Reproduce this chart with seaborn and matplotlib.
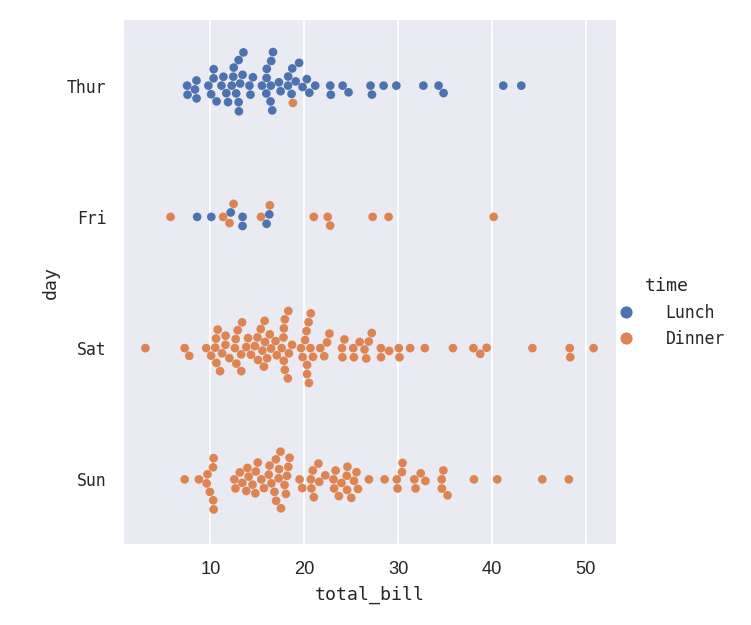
import pandas as pd
import matplotlib.pyplot as plt
import seaborn as sns

# total_bill values read per day / time
thur_lunch = [27.20, 22.76, 17.29, 19.44, 16.66, 10.07, 32.68, 15.98, 34.83, 13.03,
              18.28, 24.71, 21.16, 10.65, 12.43, 24.08, 11.69, 13.42, 14.26, 15.95,
              12.48, 29.80, 8.52, 14.52, 11.38, 22.82, 19.08, 20.27, 11.17, 12.26,
              18.26, 8.51, 10.33, 14.15, 16.00, 13.16, 17.47, 34.30, 41.19, 27.05,
              16.43, 8.35, 18.64, 11.87, 9.78, 7.51, 19.81, 28.44, 15.48, 16.58,
              7.56, 10.34, 43.11, 13.00, 13.51, 18.71, 12.74, 13.00, 16.40, 20.53,
              16.47]
thur_dinner = [18.78]
fri_lunch = [12.16, 13.42, 8.58, 15.98, 13.42, 16.27, 10.09]
fri_dinner = [28.97, 22.49, 5.75, 16.32, 22.75, 40.17, 27.28, 12.03, 21.01, 12.46,
              11.35, 15.38]
sat_dinner = [20.65, 17.92, 20.29, 15.77, 39.42, 19.82, 17.81, 13.37, 12.69, 21.70,
              19.65, 9.55, 18.35, 15.06, 20.69, 17.78, 24.06, 16.31, 16.93, 18.69,
              31.27, 16.04, 38.01, 26.41, 11.24, 48.27, 20.29, 13.81, 11.02, 18.29,
              17.59, 20.08, 16.45, 3.07, 20.23, 15.01, 12.02, 17.07, 26.86, 25.28,
              14.73, 10.51, 17.92, 44.30, 22.42, 20.92, 15.36, 20.49, 25.21, 18.24,
              14.31, 14.00, 7.25, 10.59, 10.63, 50.81, 15.81, 26.59, 38.73, 24.27,
              12.76, 30.06, 25.89, 48.33, 13.27, 28.17, 12.90, 28.15, 11.59, 7.74,
              30.14, 20.45, 13.28, 22.12, 24.01, 15.69, 11.61, 10.77, 15.53, 10.07,
              12.60, 32.83, 35.83, 29.03, 27.18, 22.67, 17.82]
sun_dinner = [16.99, 10.34, 21.01, 23.68, 24.59, 25.29, 8.77, 26.88, 15.04, 14.78,
              10.27, 35.26, 15.42, 18.43, 14.83, 21.58, 10.33, 16.29, 16.97, 17.46,
              13.94, 9.68, 30.40, 18.29, 22.23, 32.40, 28.55, 18.04, 12.54, 10.29,
              34.81, 9.94, 25.56, 19.49, 38.07, 23.95, 25.71, 17.31, 29.93, 14.07,
              13.13, 17.26, 24.55, 19.77, 29.85, 48.17, 25.00, 13.39, 16.49, 21.50,
              12.66, 16.21, 13.81, 17.51, 24.52, 20.76, 31.71, 7.25, 31.85, 16.82,
              32.90, 17.89, 14.48, 9.60, 34.63, 34.65, 23.33, 45.35, 23.17, 40.55,
              20.69, 20.90, 30.46, 18.15, 23.10, 15.69]

days = ["Thur", "Fri", "Sat", "Sun"]
times = ["Lunch", "Dinner"]

groups = [("Thur", "Lunch", thur_lunch), ("Thur", "Dinner", thur_dinner),
          ("Fri", "Lunch", fri_lunch), ("Fri", "Dinner", fri_dinner),
          ("Sat", "Dinner", sat_dinner), ("Sun", "Dinner", sun_dinner)]
rows = []
for d, t, vals in groups:
    for v in vals:
        rows.append({"total_bill": v, "day": d, "time": t})
tips = pd.DataFrame(rows)
tips["day"] = pd.Categorical(tips["day"], categories=days)
tips["time"] = pd.Categorical(tips["time"], categories=times)

sns.set_theme()
mono = ["DejaVu Sans Mono", "DejaVu Sans"]
plt.rcParams["font.family"] = mono

g = sns.catplot(data=tips, x="total_bill", y="day", hue="time", kind="swarm",
                height=5, aspect=1)
fig = g.figure
fig.set_size_inches(751 / 125, 5)
fig.subplots_adjust(left=0.1638, right=0.8202, top=0.968, bottom=0.128)
ax = g.ax

for lab in ax.get_xticklabels():
    lab.set_fontfamily("Liberation Sans")
    lab.set_fontsize(10.5)
for lab in ax.get_yticklabels():
    lab.set_fontsize(9.5)
ax.set_xlabel("total_bill", fontsize=10.5)
ax.set_ylabel("day", fontsize=10.5)

sns.move_legend(g, "center right", bbox_to_anchor=(0.985, 0.5),
                bbox_transform=fig.transFigure, frameon=False,
                labelspacing=0.5, markerscale=1.4, fontsize=9.5,
                title_fontsize=10.5, handletextpad=1.4)

fig.savefig("out.png", dpi=125)
